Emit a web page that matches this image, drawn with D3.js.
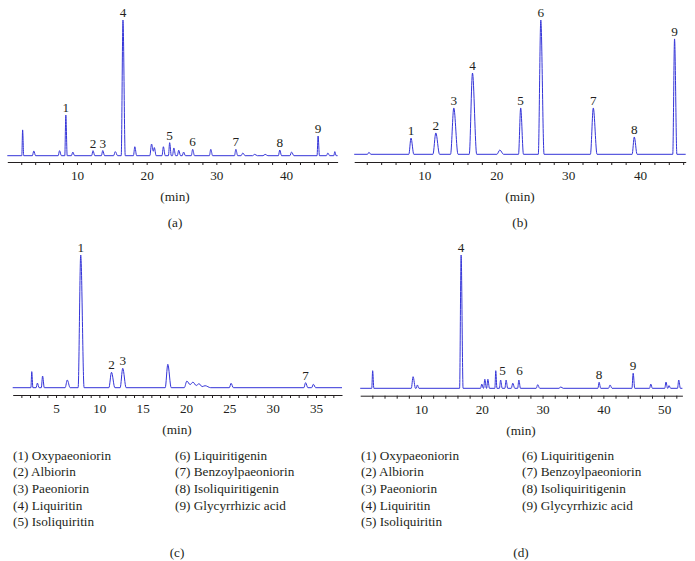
<!DOCTYPE html>
<html lang="en">
<meta charset="utf-8">
<style>
	body { margin: 0; background: #fff; }
</style>
<body>
<script src="https://cdn.jsdelivr.net/npm/d3@7"></script>
<svg class="chart" width="695" height="561"></svg>
<script>
// peaks: [retention time (min), relative height (%), half width (min)]
var peaksA = [[2.2,19,0.12],[3.8,3.5,0.2],[7.5,3.7,0.2],[8.4,30,0.15],[9.4,2.7,0.2],[12.3,3.7,0.2],
	[13.7,3.8,0.2],[15.5,3,0.25],[16.6,100,0.25],[18.3,6.6,0.2],[20.7,8.6,0.25],[21.1,6,0.2],
	[22.4,6.6,0.2],[23.3,9.6,0.18],[23.9,5.7,0.2],[24.6,4,0.2],[25.3,2.7,0.2],[26.6,4.7,0.2],
	[29.2,4.7,0.2],[32.8,4.7,0.2],[33.8,2,0.25],[35.5,1,0.3],[37,1,0.3],[39.1,4.2,0.2],
	[40.8,2.7,0.25],[44.6,14.5,0.15],[46.0,2,0.2],[47.0,3,0.15]];
var peaksB = [[2.3,1.5,0.2],[8.15,12.1,0.3],[11.6,15.9,0.4],[14.1,34.5,0.45],[16.7,60.5,0.45],
	[20.5,3.2,0.4],[23.4,34.5,0.3],[26.2,100,0.35],[33.5,34.5,0.4],[39.2,12.9,0.3],[44.8,85.9,0.25]];
var peaksC = [[2.2,12.1,0.1],[2.85,3.5,0.15],[3.45,8.8,0.15],[6.3,5.8,0.25],[7.85,100,0.3],
	[11.4,11.6,0.3],[12.7,14.6,0.3],[17.9,17.6,0.3],[20.1,5,0.3],[20.8,4.2,0.35],[21.5,3,0.4],
	[22.2,1.5,0.5],[25.2,3.3,0.2],[33.8,3.8,0.2],[34.7,2.6,0.2]];
var peaksD = [[2.05,13.2,0.15],[8.7,8.7,0.3],[9.4,2.5,0.2],[16.6,100,0.25],[20.0,3.2,0.2],[20.5,6.8,0.2],
	[21.0,6.8,0.2],[22.3,13.2,0.15],[23.1,6.2,0.2],[24.0,6.2,0.2],[25.1,3.8,0.25],[26.1,6.2,0.2],
	[29.2,2.7,0.25],[33,1,0.3],[39.3,4.5,0.2],[41.1,2.5,0.25],[44.9,11.3,0.2],[47.8,3.2,0.2],
	[50.3,4.7,0.2],[50.8,2,0.2],[52.4,6.2,0.2]];

// labelled peaks: [label, retention time, height]
var labelsA = [["1",8.4,30],["2",12.3,3.7],["3",13.7,3.8],["4",16.6,100],["5",23.3,9.6],
	["6",26.6,4.7],["7",32.8,4.7],["8",39.1,4.2],["9",44.6,14.5]];
var labelsB = [["1",8.15,12.1],["2",11.6,15.9],["3",14.1,34.5],["4",16.7,60.5],["5",23.4,34.5],
	["6",26.2,100],["7",33.5,34.5],["8",39.2,12.9],["9",44.8,85.9]];
var labelsC = [["1",7.85,100],["2",11.4,11.6],["3",12.7,14.6],["7",33.8,3.8]];
var labelsD = [["4",16.6,100],["5",23.4,7.6],["6",26.2,7.6],["8",39.3,4.5],["9",44.9,11.3]];

var majorTicksA = [10, 20, 30, 40];
var majorTicksB = [10, 20, 30, 40];
var majorTicksC = [5, 10, 15, 20, 25, 30, 35];
var majorTicksD = [10, 20, 30, 40, 50];

var compounds = ["Oxypaeoniorin", "Albiorin", "Paeoniorin", "Liquiritin", "Isoliquiritin",
	"Liquiritigenin", "Benzoylpaeoniorin", "Isoliquiritigenin", "Glycyrrhizic acid"];

var panels = [
	{ name: "(a)", peaks: peaksA, labels: labelsA, majors: majorTicksA, minorStep: 2,
	  domain: [0, 47.4], range: [7.3, 337.6], axisY: 162, baseY: 155.7, topY: 20, cx: 175, legend: null },
	{ name: "(b)", peaks: peaksB, labels: labelsB, majors: majorTicksB, minorStep: 2,
	  domain: [0.25, 46.35], range: [354.2, 685.7], axisY: 162, baseY: 154.3, topY: 20, cx: 520, legend: null },
	{ name: "(c)", peaks: peaksC, labels: labelsC, majors: majorTicksC, minorStep: 1,
	  domain: [0, 38], range: [12.7, 342], axisY: 395, baseY: 387.7, topY: 255, cx: 177, legend: [13, 175] },
	{ name: "(d)", peaks: peaksD, labels: labelsD, majors: majorTicksD, minorStep: 2,
	  domain: [0, 53], range: [360.2, 682.4], axisY: 395.7, baseY: 388.3, topY: 255, cx: 521, legend: [361, 522] }
];

var fs = 12.5;

var svg = d3.select(".chart")
	.style("display", "block");

svg.append("rect").attr("width", 695).attr("height", 561).attr("fill", "#fff");

function label(sel) {
	sel.attr("font-family", "Liberation Serif")
		.style("font-family", "Liberation Serif")
		.attr("font-size", fs)
		.attr("fill", "#231f20");
	return sel;
}

// whatever serif face gets used, scale text widths so the legend keeps the figure's 98px line
var probe = label(svg.append("text")).text("(1) Oxypaeoniorin");
var probeW = probe.node().getComputedTextLength();
var squeeze = probeW > 0 ? Math.max(0.75, Math.min(1.15, 98 / probeW)) : 1;
probe.remove();

function pin(sel) {
	sel.each(function() {
		var w = this.getComputedTextLength();
		if (w > 0) d3.select(this).attr("textLength", (w * squeeze).toFixed(1)).attr("lengthAdjust", "spacingAndGlyphs");
	});
	return sel;
}

// turn the peak table into line vertices (foot, apex, tailing foot)
function vertices(peaks, domain) {
	var pts = [[domain[0], 0]];
	var prevFoot = null;
	peaks.forEach(function(p) {
		var left = p[0] - p[2], right = p[0] + p[2] * 1.3;
		if (prevFoot && left <= prevFoot.t) {
			// overlapping neighbours: replace the two feet with a shallow valley
			pts.pop();
			pts.push([(prevFoot.t + left) / 2, Math.min(prevFoot.h, p[1]) * 0.55]);
		} else {
			pts.push([left, 0]);
		}
		pts.push([p[0], p[1]]);
		pts.push([right, 0]);
		prevFoot = { t: right, h: p[1] };
	});
	pts.push([domain[1], 0]);
	pts.sort(function(a, b) { return a[0] - b[0]; });
	return pts;
}

panels.forEach(function(pn) {
	var x = d3.scaleLinear().domain(pn.domain).range(pn.range);
	var y = d3.scaleLinear().domain([0, 100]).range([pn.baseY, pn.topY]);

	var line = d3.line()
		.x(function(d) { return x(d[0]); })
		.y(function(d) { return y(d[1]); })
		.curve(d3.curveMonotoneX);

	svg.append("path")
		.datum(vertices(pn.peaks, pn.domain))
		.attr("fill", "none")
		.attr("stroke", "#3434d8")
		.attr("stroke-width", 1)
		.attr("stroke-linejoin", "round")
		.attr("d", line);

	// axis with minor ticks, labels only at the majors
	var ticks = d3.range(pn.minorStep, pn.domain[1], pn.minorStep);
	var axis = d3.axisBottom(x)
		.tickValues(ticks)
		.tickSizeInner(3)
		.tickSizeOuter(0)
		.tickPadding(6)
		.tickFormat(function(d) { return pn.majors.indexOf(d) >= 0 ? d : ""; });

	svg.append("g")
		.attr("transform", "translate(0," + pn.axisY + ")")
		.call(axis)
		.call(function(g) {
			g.attr("font-family", "Liberation Serif").attr("font-size", fs);
			g.selectAll("path, line").attr("stroke", "#231f20");
			pin(label(g.selectAll("text")));
		});

	pin(label(svg.selectAll(null)
		.data(pn.labels)
		.enter().append("text"))
		.attr("text-anchor", "middle")
		.attr("x", function(d) { return x(d[1]); })
		.attr("y", function(d) { return y(d[2]) - 3; })
		.text(function(d) { return d[0]; }));

	pin(label(svg.append("text"))
		.attr("text-anchor", "middle")
		.attr("x", pn.cx)
		.attr("y", pn.axisY + 39)
		.text("(min)"));

	var capY = pn.legend ? 557 : 227;
	pin(label(svg.append("text"))
		.attr("text-anchor", "middle")
		.attr("x", pn.cx)
		.attr("y", capY)
		.text(pn.name));

	if (pn.legend) {
		pin(label(svg.selectAll(null)
			.data(compounds)
			.enter().append("text"))
			.attr("x", function(d, i) { return i < 5 ? pn.legend[0] : pn.legend[1]; })
			.attr("y", function(d, i) { return 459.5 + (i % 5) * 16.7; })
			.text(function(d, i) { return "(" + (i + 1) + ") " + d; }));
	}
});
</script>
</body>
</html>
